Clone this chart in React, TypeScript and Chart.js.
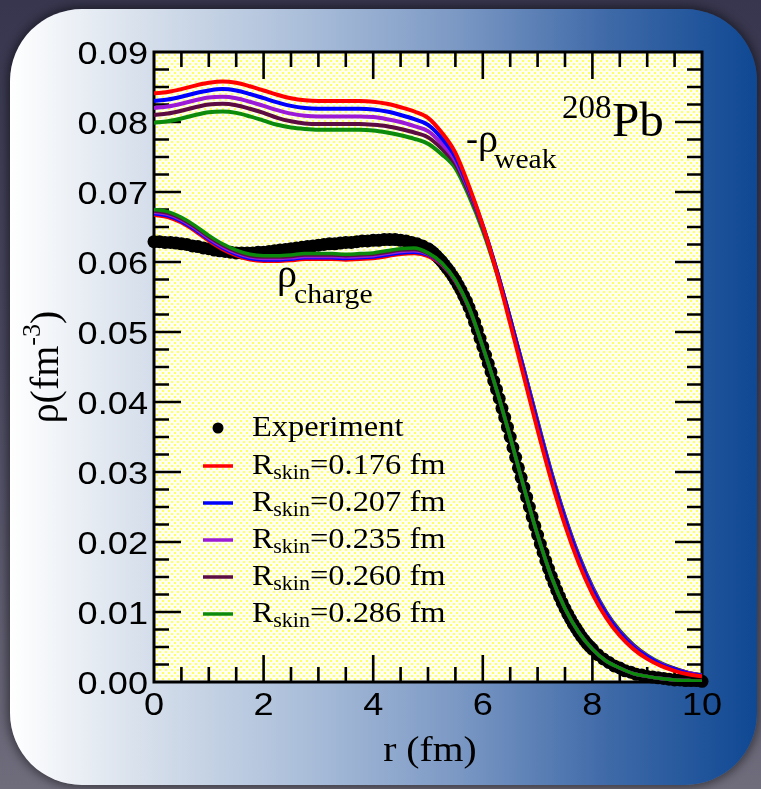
import React, { useEffect, useRef } from "react";
import { Chart, registerables } from "chart.js";
Chart.register(...registerables);

const W = 761;
const H = 789;

// ---------- data ----------
const rGrid = [0, 0.25, 0.5, 0.75, 1, 1.25, 1.5, 1.75, 2, 2.25, 2.5, 2.75, 3, 3.25, 3.5, 3.75, 4, 4.25, 4.5, 4.75, 5, 5.25, 5.5, 5.75, 6, 6.25, 6.5, 6.75, 7, 7.25, 7.5, 7.75, 8, 8.25, 8.5, 8.75, 9, 9.25, 9.5, 9.75, 10];

const weak176 = [0.0841, 0.0843, 0.0847, 0.0852, 0.0856, 0.0858, 0.0856, 0.0851, 0.0845, 0.0839, 0.0834, 0.0831, 0.0830, 0.0830, 0.0830, 0.0830, 0.0829, 0.0826, 0.0821, 0.0815, 0.0806, 0.0785, 0.0756, 0.0708, 0.0652, 0.0586, 0.0512, 0.0436, 0.0360, 0.0288, 0.0224, 0.0170, 0.0126, 0.0092, 0.0066, 0.0047, 0.0033, 0.0023, 0.0016, 0.0011, 0.0008];
const weak207 = [0.0830, 0.0832, 0.0836, 0.0841, 0.0845, 0.0847, 0.0845, 0.0840, 0.0834, 0.0828, 0.0823, 0.0820, 0.0819, 0.0819, 0.0819, 0.0819, 0.0818, 0.0815, 0.0810, 0.0804, 0.0796, 0.0777, 0.0750, 0.0705, 0.0652, 0.0589, 0.0518, 0.0443, 0.0368, 0.0296, 0.0232, 0.0177, 0.0132, 0.0097, 0.0070, 0.0050, 0.0036, 0.0025, 0.0018, 0.0012, 0.0009];
const weak235 = [0.0820, 0.0822, 0.0826, 0.0831, 0.0835, 0.0836, 0.0834, 0.0829, 0.0823, 0.0817, 0.0812, 0.0809, 0.0808, 0.0808, 0.0808, 0.0808, 0.0807, 0.0804, 0.0800, 0.0794, 0.0787, 0.0769, 0.0745, 0.0702, 0.0651, 0.0589, 0.0519, 0.0445, 0.0370, 0.0298, 0.0234, 0.0179, 0.0134, 0.0098, 0.0071, 0.0051, 0.0037, 0.0026, 0.0018, 0.0013, 0.0009];
const weak260 = [0.0810, 0.0812, 0.0816, 0.0821, 0.0825, 0.0826, 0.0824, 0.0819, 0.0813, 0.0806, 0.0801, 0.0798, 0.0797, 0.0797, 0.0797, 0.0797, 0.0796, 0.0794, 0.0790, 0.0785, 0.0778, 0.0762, 0.0740, 0.0699, 0.0649, 0.0588, 0.0519, 0.0446, 0.0371, 0.0299, 0.0235, 0.0180, 0.0135, 0.0099, 0.0072, 0.0052, 0.0037, 0.0026, 0.0019, 0.0013, 0.0009];
const weak286 = [0.0799, 0.0801, 0.0805, 0.0810, 0.0814, 0.0815, 0.0813, 0.0808, 0.0802, 0.0796, 0.0792, 0.0790, 0.0789, 0.0789, 0.0789, 0.0789, 0.0788, 0.0785, 0.0781, 0.0776, 0.0769, 0.0754, 0.0734, 0.0694, 0.0645, 0.0586, 0.0518, 0.0446, 0.0372, 0.0300, 0.0236, 0.0181, 0.0136, 0.0100, 0.0073, 0.0053, 0.0038, 0.0027, 0.0019, 0.0013, 0.0010];

const charge176 = [0.0667, 0.0664, 0.0656, 0.0644, 0.0630, 0.0618, 0.0609, 0.0603, 0.0601, 0.0601, 0.0602, 0.0604, 0.0604, 0.0604, 0.0603, 0.0604, 0.0605, 0.0608, 0.0611, 0.0612, 0.0608, 0.0596, 0.0572, 0.0533, 0.0478, 0.0418, 0.0350, 0.0278, 0.0210, 0.0151, 0.0105, 0.0071, 0.0047, 0.0030, 0.0020, 0.0012, 0.0008, 0.0005, 0.0003, 0.0002, 0.0001];
const charge207 = [0.0669, 0.0666, 0.0658, 0.0646, 0.0632, 0.0620, 0.0611, 0.0605, 0.0603, 0.0603, 0.0604, 0.0606, 0.0606, 0.0606, 0.0605, 0.0606, 0.0607, 0.0610, 0.0613, 0.0614, 0.0610, 0.0597, 0.0573, 0.0534, 0.0478, 0.0418, 0.0350, 0.0278, 0.0210, 0.0151, 0.0105, 0.0071, 0.0047, 0.0030, 0.0020, 0.0012, 0.0008, 0.0005, 0.0003, 0.0002, 0.0001];
const charge235 = [0.0671, 0.0668, 0.0660, 0.0648, 0.0634, 0.0622, 0.0613, 0.0607, 0.0605, 0.0605, 0.0606, 0.0608, 0.0608, 0.0608, 0.0607, 0.0608, 0.0609, 0.0612, 0.0615, 0.0616, 0.0611, 0.0597, 0.0573, 0.0534, 0.0479, 0.0418, 0.0350, 0.0278, 0.0210, 0.0151, 0.0105, 0.0071, 0.0047, 0.0030, 0.0020, 0.0012, 0.0008, 0.0005, 0.0003, 0.0002, 0.0001];
const charge260 = [0.0673, 0.0670, 0.0662, 0.0650, 0.0636, 0.0624, 0.0615, 0.0609, 0.0607, 0.0607, 0.0608, 0.0610, 0.0610, 0.0610, 0.0609, 0.0610, 0.0611, 0.0614, 0.0617, 0.0618, 0.0612, 0.0598, 0.0574, 0.0535, 0.0479, 0.0418, 0.0350, 0.0278, 0.0210, 0.0151, 0.0105, 0.0071, 0.0047, 0.0030, 0.0020, 0.0012, 0.0008, 0.0005, 0.0003, 0.0002, 0.0001];
const charge286 = [0.0675, 0.0672, 0.0664, 0.0652, 0.0638, 0.0626, 0.0617, 0.0611, 0.0609, 0.0609, 0.0610, 0.0612, 0.0612, 0.0612, 0.0611, 0.0612, 0.0613, 0.0616, 0.0619, 0.0620, 0.0613, 0.0599, 0.0574, 0.0535, 0.0479, 0.0418, 0.0350, 0.0278, 0.0210, 0.0151, 0.0105, 0.0071, 0.0047, 0.0030, 0.0020, 0.0012, 0.0008, 0.0005, 0.0003, 0.0002, 0.0001];

const expR = [
  0, 0.1, 0.2, 0.3, 0.4, 0.5, 0.6, 0.7, 0.8, 0.9,
  1, 1.1, 1.2, 1.3, 1.4, 1.5, 1.6, 1.7, 1.8, 1.9,
  2, 2.1, 2.2, 2.3, 2.4, 2.5, 2.6, 2.7, 2.8, 2.9,
  3, 3.1, 3.2, 3.3, 3.4, 3.5, 3.6, 3.7, 3.8, 3.9,
  4, 4.1, 4.2, 4.3, 4.4, 4.5, 4.6, 4.7, 4.8, 4.9,
  5, 5.05, 5.1, 5.15, 5.2, 5.25, 5.3, 5.35, 5.4, 5.45,
  5.5, 5.55, 5.6, 5.65, 5.7, 5.75, 5.8, 5.85, 5.9, 5.95,
  6, 6.05, 6.1, 6.15, 6.2, 6.25, 6.3, 6.35, 6.4, 6.45,
  6.5, 6.55, 6.6, 6.65, 6.7, 6.75, 6.8, 6.85, 6.9, 6.95,
  7, 7.05, 7.1, 7.15, 7.2, 7.25, 7.3, 7.35, 7.4, 7.45,
  7.5, 7.55, 7.6, 7.65, 7.7, 7.75, 7.8, 7.85, 7.9, 7.95,
  8, 8.1, 8.2, 8.3, 8.4, 8.5, 8.6, 8.7, 8.8, 8.9,
  9, 9.1, 9.2, 9.3, 9.4, 9.5, 9.6, 9.7, 9.8, 9.9, 10,
];
const expRho = [
  0.0629, 0.0629, 0.0628, 0.0628, 0.0627, 0.0626, 0.0625, 0.0623, 0.0622, 0.0620,
  0.0619, 0.0617, 0.0616, 0.0615, 0.0614, 0.0613, 0.0613, 0.0613, 0.0613, 0.0614,
  0.0614, 0.0615, 0.0616, 0.0617, 0.0618, 0.0619, 0.0620, 0.0621, 0.0622, 0.0623,
  0.0624, 0.0625, 0.0626, 0.0626, 0.0627, 0.0628, 0.0628, 0.0629, 0.0630, 0.0630,
  0.0631, 0.0631, 0.0632, 0.0632, 0.0632, 0.0631, 0.0630, 0.0628, 0.0626, 0.0623,
  0.0619, 0.0616, 0.0613, 0.0609, 0.0605, 0.0601, 0.0596, 0.0591, 0.0586, 0.0580,
  0.0574, 0.0567, 0.0560, 0.0552, 0.0544, 0.0535, 0.0525, 0.0514, 0.0503, 0.0491,
  0.0479, 0.0467, 0.0455, 0.0443, 0.0430, 0.0418, 0.0405, 0.0391, 0.0378, 0.0364,
  0.0350, 0.0335, 0.0321, 0.0306, 0.0292, 0.0278, 0.0264, 0.0250, 0.0236, 0.0223,
  0.0210, 0.0197, 0.0185, 0.0173, 0.0162, 0.0151, 0.0141, 0.0131, 0.0122, 0.0113,
  0.0105, 0.0097, 0.0090, 0.0083, 0.0077, 0.0071, 0.0065, 0.0060, 0.0055, 0.0051,
  0.0047, 0.0039, 0.0033, 0.0028, 0.0023, 0.0020, 0.0016, 0.0014, 0.0011, 0.0010,
  0.0008, 0.0007, 0.0006, 0.0005, 0.0004, 0.0003, 0.0003, 0.0002, 0.0002, 0.0002, 0.0001,
];

const skinValues = ["0.176", "0.207", "0.235", "0.260", "0.286"];
const seriesColors = ["#ff0000", "#0000ff", "#9a1ad8", "#5c0c42", "#0c8a0c"];
const weakSeries = [weak176, weak207, weak235, weak260, weak286];
const chargeSeries = [charge176, charge207, charge235, charge260, charge286];

const xTickValues = [0, 2, 4, 6, 8, 10];
const xTickLabels = ["0", "2", "4", "6", "8", "10"];
const yTickValues = [0, 0.01, 0.02, 0.03, 0.04, 0.05, 0.06, 0.07, 0.08, 0.09];
const yTickLabels = ["0.00", "0.01", "0.02", "0.03", "0.04", "0.05", "0.06", "0.07", "0.08", "0.09"];

// ---------- helpers ----------
const SERIF = '"Liberation Serif", "Times New Roman", serif';
const SANS = '"Liberation Sans", Arial, sans-serif';

function drawText(
  ctx: CanvasRenderingContext2D,
  s: string,
  x: number,
  y: number,
  size: number,
  family: string,
  sx = 1,
  align: "left" | "center" | "right" = "left"
): number {
  ctx.save();
  ctx.font = `${size}px ${family}`;
  ctx.textBaseline = "alphabetic";
  ctx.textAlign = "left";
  const w = ctx.measureText(s).width * sx;
  const x0 = align === "left" ? x : align === "center" ? x - w / 2 : x - w;
  ctx.translate(x0, y);
  ctx.scale(sx, 1);
  ctx.fillStyle = "#000";
  ctx.fillText(s, 0, 0);
  ctx.restore();
  return w;
}

function toXY(xs: number[], ys: number[]) {
  return xs.map((x, i) => ({ x, y: ys[i] }));
}

let patternCache: CanvasPattern | null = null;
function getPattern(ctx: CanvasRenderingContext2D) {
  if (patternCache) return patternCache;
  const c = document.createElement("canvas");
  c.width = 6;
  c.height = 6;
  const g = c.getContext("2d")!;
  g.fillStyle = "#fffff0";
  g.fillRect(0, 0, 6, 6);
  g.fillStyle = "#ffff66";
  g.fillRect(0, 0, 2, 2);
  g.fillRect(3, 3, 2, 2);
  patternCache = ctx.createPattern(c, "repeat");
  return patternCache;
}

const bgPlugin = {
  id: "bgPattern",
  beforeDatasetsDraw(chart: any) {
    const { ctx, chartArea: a, scales } = chart;
    const xs = scales.x;
    const ys = scales.y;
    ctx.save();
    ctx.fillStyle = getPattern(ctx) || "#ffffd0";
    ctx.fillRect(a.left, a.top, a.right - a.left, a.bottom - a.top);

    // ticks (inward, all four sides)
    ctx.strokeStyle = "#000";
    ctx.lineWidth = 2.6;
    ctx.beginPath();
    for (let i = 1; i < 20; i++) {
      const v = i * 0.5;
      const px = xs.getPixelForValue(v);
      const len = i % 4 === 0 ? 27 : 15;
      ctx.moveTo(px, a.bottom);
      ctx.lineTo(px, a.bottom - len);
      ctx.moveTo(px, a.top);
      ctx.lineTo(px, a.top + len);
    }
    for (let i = 1; i < 36; i++) {
      const v = i * 0.0025;
      const py = ys.getPixelForValue(v);
      const len = i % 4 === 0 ? 27 : 15;
      ctx.moveTo(a.left, py);
      ctx.lineTo(a.left + len, py);
      ctx.moveTo(a.right, py);
      ctx.lineTo(a.right - len, py);
    }
    ctx.stroke();
    ctx.lineWidth = 3;
    ctx.strokeRect(a.left, a.top, a.right - a.left, a.bottom - a.top);
    ctx.restore();
  },
};

const textPlugin = {
  id: "texts",
  afterDraw(chart: any) {
    const { ctx, chartArea: a, scales } = chart;
    const xs = scales.x;
    const ys = scales.y;
    // tick labels
    xTickValues.forEach((v, i) => {
      drawText(ctx, xTickLabels[i], xs.getPixelForValue(v), a.bottom + 33, 32, SANS, 1.13, "center");
    });
    yTickValues.forEach((v, i) => {
      drawText(ctx, yTickLabels[i], a.left - 6, ys.getPixelForValue(v) + 11.5, 32, SANS, 1.13, "right");
    });

    // x axis title
    drawText(ctx, "r (fm)", (a.left + a.right) / 2 + 2, 761, 36, SERIF, 1.1, "center");

    // y axis title (rotated)
    ctx.save();
    ctx.translate(58, 367);
    ctx.rotate(-Math.PI / 2);
    ctx.font = `40px ${SERIF}`;
    const w1 = ctx.measureText("ρ(fm").width;
    ctx.font = `26px ${SERIF}`;
    const w2 = ctx.measureText("-3").width;
    ctx.font = `40px ${SERIF}`;
    const w3 = ctx.measureText(")").width;
    let cx = -(w1 + w2 + w3) / 2;
    cx += drawText(ctx, "ρ(fm", cx, 0, 40, SERIF);
    cx += drawText(ctx, "-3", cx, -18, 26, SERIF);
    drawText(ctx, ")", cx, 0, 40, SERIF);
    ctx.restore();

    // 208Pb
    drawText(ctx, "208", 562, 118, 33, SERIF);
    drawText(ctx, "Pb", 612, 136, 49, SERIF);

    // -rho_weak
    let x = 466;
    x += drawText(ctx, "-", x, 150, 36, SERIF);
    x += drawText(ctx, "ρ", x, 152, 40, SERIF);
    drawText(ctx, "weak", x - 4, 168, 27, SERIF, 1.1);

    // rho_charge
    x = 277;
    x += drawText(ctx, "ρ", x, 287, 40, SERIF);
    drawText(ctx, "charge", x - 3, 303, 27, SERIF, 1.1);

    // legend
    ctx.save();
    ctx.fillStyle = "#000";
    ctx.beginPath();
    ctx.arc(218, 428, 5.5, 0, Math.PI * 2);
    ctx.fill();
    ctx.restore();
    drawText(ctx, "Experiment", 252, 436, 29, SERIF, 1.12);
    skinValues.forEach((sv, i) => {
      const base = 474 + i * 37;
      const ly = 466 + i * 37;
      ctx.save();
      ctx.strokeStyle = seriesColors[i];
      ctx.lineWidth = 3.5;
      ctx.beginPath();
      ctx.moveTo(203, ly);
      ctx.lineTo(233, ly);
      ctx.stroke();
      ctx.restore();
      let lx = 252;
      lx += drawText(ctx, "R", lx, base, 29, SERIF, 1.1);
      lx += drawText(ctx, "skin", lx, base + 5, 20, SERIF, 1.1);
      drawText(ctx, `=${sv} fm`, lx, base, 29, SERIF, 1.12);
    });
  },
};

export default function App() {
  const ref = useRef<HTMLCanvasElement>(null);
  useEffect(() => {
    const canvas = ref.current!;
    const datasets: any[] = [];
    datasets.push({
      label: "Experiment",
      data: toXY(expR, expRho),
      showLine: false,
      pointRadius: 6.5,
      pointBackgroundColor: "#000",
      pointBorderWidth: 0,
      pointBorderColor: "#000",
      clip: false,
      order: 100,
    });
    weakSeries.forEach((ys, i) => {
      datasets.push({
        label: `weak ${skinValues[i]}`,
        data: toXY(rGrid, ys),
        showLine: true,
        borderColor: seriesColors[i],
        borderWidth: 4,
        pointRadius: 0,
        cubicInterpolationMode: "monotone",
        order: 40 + i,
      });
    });
    chargeSeries.forEach((ys, i) => {
      datasets.push({
        label: `charge ${skinValues[i]}`,
        data: toXY(rGrid, ys),
        showLine: true,
        borderColor: seriesColors[i],
        borderWidth: 3.5,
        pointRadius: 0,
        cubicInterpolationMode: "monotone",
        order: 20 - i,
      });
    });
    const chart = new Chart(canvas, {
      type: "scatter",
      data: { datasets },
      options: {
        responsive: false,
        animation: false,
        devicePixelRatio: 1,
        layout: { padding: { left: 154, right: 59, top: 52, bottom: 107 } },
        plugins: { legend: { display: false }, tooltip: { enabled: false } },
        scales: {
          x: { type: "linear", min: 0, max: 10, display: false },
          y: { type: "linear", min: 0, max: 0.09, display: false },
        },
      },
      plugins: [bgPlugin, textPlugin],
    } as any);
    return () => chart.destroy();
  }, []);

  return (
    <div
      style={{
        position: "fixed",
        left: 0,
        top: 0,
        width: W,
        height: H,
        overflow: "hidden",
        background: "linear-gradient(180deg, #37364e 0%, #4a4860 45%, #6f6d7c 100%)",
      }}
    >
      <div
        style={{
          position: "absolute",
          left: 10,
          top: 9,
          width: 747,
          height: 776,
          borderRadius: 72,
          background:
            "linear-gradient(90deg, #ffffff 0%, #d6dfeb 18%, #a9bdd9 40%, #7b98c4 60%, #3f6aa8 80%, #0f4893 100%)",
          boxShadow: "0 0 10px 3px rgba(0,0,0,0.45)",
        }}
      />
      <canvas ref={ref} width={W} height={H} style={{ position: "absolute", left: 0, top: 0, width: W, height: H }} />
    </div>
  );
}
